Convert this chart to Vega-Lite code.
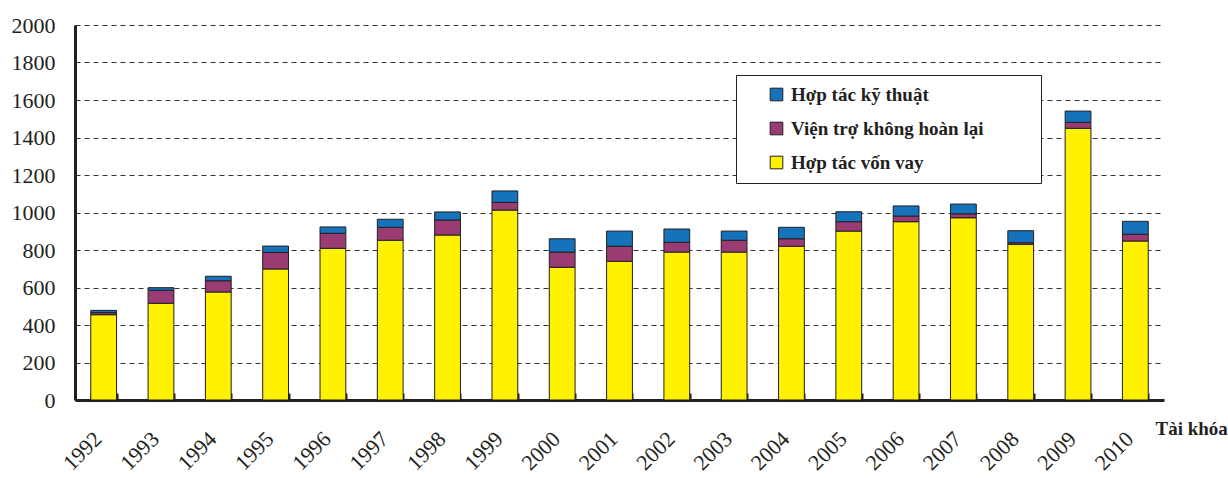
{
  "$schema": "https://vega.github.io/schema/vega-lite/v6.json",
  "autosize": "none",
  "width": 1089,
  "height": 375,
  "padding": {"left": 75, "top": 25, "right": 64, "bottom": 78},
  "background": "white",
  "config": {
    "view": {"stroke": null},
    "font": "Liberation Serif"
  },
  "data": {
    "values": [
      {"nam": "1992", "loai": "Hợp tác vốn vay", "thu_tu": 1, "gia_tri": 455},
      {"nam": "1992", "loai": "Viện trợ không hoàn lại", "thu_tu": 2, "gia_tri": 11},
      {"nam": "1992", "loai": "Hợp tác kỹ thuật", "thu_tu": 3, "gia_tri": 12},
      {"nam": "1993", "loai": "Hợp tác vốn vay", "thu_tu": 1, "gia_tri": 516},
      {"nam": "1993", "loai": "Viện trợ không hoàn lại", "thu_tu": 2, "gia_tri": 69},
      {"nam": "1993", "loai": "Hợp tác kỹ thuật", "thu_tu": 3, "gia_tri": 14},
      {"nam": "1994", "loai": "Hợp tác vốn vay", "thu_tu": 1, "gia_tri": 576},
      {"nam": "1994", "loai": "Viện trợ không hoàn lại", "thu_tu": 2, "gia_tri": 60},
      {"nam": "1994", "loai": "Hợp tác kỹ thuật", "thu_tu": 3, "gia_tri": 24},
      {"nam": "1995", "loai": "Hợp tác vốn vay", "thu_tu": 1, "gia_tri": 699},
      {"nam": "1995", "loai": "Viện trợ không hoàn lại", "thu_tu": 2, "gia_tri": 88},
      {"nam": "1995", "loai": "Hợp tác kỹ thuật", "thu_tu": 3, "gia_tri": 34},
      {"nam": "1996", "loai": "Hợp tác vốn vay", "thu_tu": 1, "gia_tri": 809},
      {"nam": "1996", "loai": "Viện trợ không hoàn lại", "thu_tu": 2, "gia_tri": 80},
      {"nam": "1996", "loai": "Hợp tác kỹ thuật", "thu_tu": 3, "gia_tri": 34},
      {"nam": "1997", "loai": "Hợp tác vốn vay", "thu_tu": 1, "gia_tri": 852},
      {"nam": "1997", "loai": "Viện trợ không hoàn lại", "thu_tu": 2, "gia_tri": 69},
      {"nam": "1997", "loai": "Hợp tác kỹ thuật", "thu_tu": 3, "gia_tri": 43},
      {"nam": "1998", "loai": "Hợp tác vốn vay", "thu_tu": 1, "gia_tri": 880},
      {"nam": "1998", "loai": "Viện trợ không hoàn lại", "thu_tu": 2, "gia_tri": 80},
      {"nam": "1998", "loai": "Hợp tác kỹ thuật", "thu_tu": 3, "gia_tri": 43},
      {"nam": "1999", "loai": "Hợp tác vốn vay", "thu_tu": 1, "gia_tri": 1013},
      {"nam": "1999", "loai": "Viện trợ không hoàn lại", "thu_tu": 2, "gia_tri": 41},
      {"nam": "1999", "loai": "Hợp tác kỹ thuật", "thu_tu": 3, "gia_tri": 61},
      {"nam": "2000", "loai": "Hợp tác vốn vay", "thu_tu": 1, "gia_tri": 708},
      {"nam": "2000", "loai": "Viện trợ không hoàn lại", "thu_tu": 2, "gia_tri": 81},
      {"nam": "2000", "loai": "Hợp tác kỹ thuật", "thu_tu": 3, "gia_tri": 71},
      {"nam": "2001", "loai": "Hợp tác vốn vay", "thu_tu": 1, "gia_tri": 740},
      {"nam": "2001", "loai": "Viện trợ không hoàn lại", "thu_tu": 2, "gia_tri": 80},
      {"nam": "2001", "loai": "Hợp tác kỹ thuật", "thu_tu": 3, "gia_tri": 81},
      {"nam": "2002", "loai": "Hợp tác vốn vay", "thu_tu": 1, "gia_tri": 789},
      {"nam": "2002", "loai": "Viện trợ không hoàn lại", "thu_tu": 2, "gia_tri": 52},
      {"nam": "2002", "loai": "Hợp tác kỹ thuật", "thu_tu": 3, "gia_tri": 71},
      {"nam": "2003", "loai": "Hợp tác vốn vay", "thu_tu": 1, "gia_tri": 789},
      {"nam": "2003", "loai": "Viện trợ không hoàn lại", "thu_tu": 2, "gia_tri": 63},
      {"nam": "2003", "loai": "Hợp tác kỹ thuật", "thu_tu": 3, "gia_tri": 49},
      {"nam": "2004", "loai": "Hợp tác vốn vay", "thu_tu": 1, "gia_tri": 820},
      {"nam": "2004", "loai": "Viện trợ không hoàn lại", "thu_tu": 2, "gia_tri": 40},
      {"nam": "2004", "loai": "Hợp tác kỹ thuật", "thu_tu": 3, "gia_tri": 61},
      {"nam": "2005", "loai": "Hợp tác vốn vay", "thu_tu": 1, "gia_tri": 901},
      {"nam": "2005", "loai": "Viện trợ không hoàn lại", "thu_tu": 2, "gia_tri": 50},
      {"nam": "2005", "loai": "Hợp tác kỹ thuật", "thu_tu": 3, "gia_tri": 53},
      {"nam": "2006", "loai": "Hợp tác vốn vay", "thu_tu": 1, "gia_tri": 951},
      {"nam": "2006", "loai": "Viện trợ không hoàn lại", "thu_tu": 2, "gia_tri": 30},
      {"nam": "2006", "loai": "Hợp tác kỹ thuật", "thu_tu": 3, "gia_tri": 54},
      {"nam": "2007", "loai": "Hợp tác vốn vay", "thu_tu": 1, "gia_tri": 972},
      {"nam": "2007", "loai": "Viện trợ không hoàn lại", "thu_tu": 2, "gia_tri": 21},
      {"nam": "2007", "loai": "Hợp tác kỹ thuật", "thu_tu": 3, "gia_tri": 52},
      {"nam": "2008", "loai": "Hợp tác vốn vay", "thu_tu": 1, "gia_tri": 830},
      {"nam": "2008", "loai": "Viện trợ không hoàn lại", "thu_tu": 2, "gia_tri": 9},
      {"nam": "2008", "loai": "Hợp tác kỹ thuật", "thu_tu": 3, "gia_tri": 64},
      {"nam": "2009", "loai": "Hợp tác vốn vay", "thu_tu": 1, "gia_tri": 1449},
      {"nam": "2009", "loai": "Viện trợ không hoàn lại", "thu_tu": 2, "gia_tri": 32},
      {"nam": "2009", "loai": "Hợp tác kỹ thuật", "thu_tu": 3, "gia_tri": 60},
      {"nam": "2010", "loai": "Hợp tác vốn vay", "thu_tu": 1, "gia_tri": 848},
      {"nam": "2010", "loai": "Viện trợ không hoàn lại", "thu_tu": 2, "gia_tri": 36},
      {"nam": "2010", "loai": "Hợp tác kỹ thuật", "thu_tu": 3, "gia_tri": 69}
    ]
  },
  "mark": {"type": "bar", "stroke": "#231F20", "strokeWidth": 1},
  "encoding": {
    "x": {
      "field": "nam",
      "type": "ordinal",
      "scale": {"paddingInner": 0.55, "paddingOuter": 0.275},
      "axis": {
        "title": "Tài khóa",
        "titleFont": "Liberation Serif",
        "titleFontSize": 19,
        "titleFontWeight": "bold",
        "titleColor": "#231F20",
        "titleAngle": 0,
        "titleAlign": "left",
        "titleBaseline": "middle",
        "titleX": 1080,
        "titleY": 28,
        "labelAngle": -45,
        "labelAlign": "right",
        "labelBaseline": "middle",
        "labelPadding": 42,
        "labelOffset": -6,
        "labelFont": "Liberation Serif",
        "labelFontSize": 22,
        "labelColor": "#231F20",
        "domainColor": "#231F20",
        "domainWidth": 3,
        "tickBand": "extent",
        "tickSize": -7,
        "tickWidth": 2,
        "tickColor": "#231F20",
        "grid": false
      }
    },
    "y": {
      "field": "gia_tri",
      "type": "quantitative",
      "stack": "zero",
      "scale": {"domain": [0, 2000], "nice": false},
      "axis": {
        "title": null,
        "format": "d",
        "values": [0, 200, 400, 600, 800, 1000, 1200, 1400, 1600, 1800, 2000],
        "labelFont": "Liberation Serif",
        "labelFontSize": 22,
        "labelColor": "#231F20",
        "labelPadding": 20,
        "ticks": false,
        "domainColor": "#231F20",
        "domainWidth": 3,
        "grid": true,
        "gridColor": "#333333",
        "gridDash": [5, 4],
        "gridWidth": 1.2
      }
    },
    "color": {
      "field": "loai",
      "type": "nominal",
      "scale": {
        "domain": ["Hợp tác kỹ thuật", "Viện trợ không hoàn lại", "Hợp tác vốn vay"],
        "range": ["#1473BA", "#9A3B73", "#FFF200"]
      },
      "legend": {
        "orient": "none",
        "legendX": 661,
        "legendY": 50,
        "title": " ",
        "titleOrient": "right",
        "titlePadding": 48,
        "strokeColor": "#231F20",
        "fillColor": "white",
        "padding": 10,
        "symbolType": "square",
        "symbolSize": 160,
        "symbolOffset": 21,
        "symbolStrokeColor": "#231F20",
        "symbolStrokeWidth": 1,
        "labelOffset": 5,
        "labelFont": "Liberation Serif",
        "labelFontSize": 19,
        "labelFontWeight": "bold",
        "labelColor": "#231F20",
        "labelLimit": 400,
        "rowPadding": 14
      }
    },
    "order": {"field": "thu_tu", "type": "quantitative", "sort": "ascending"}
  }
}
